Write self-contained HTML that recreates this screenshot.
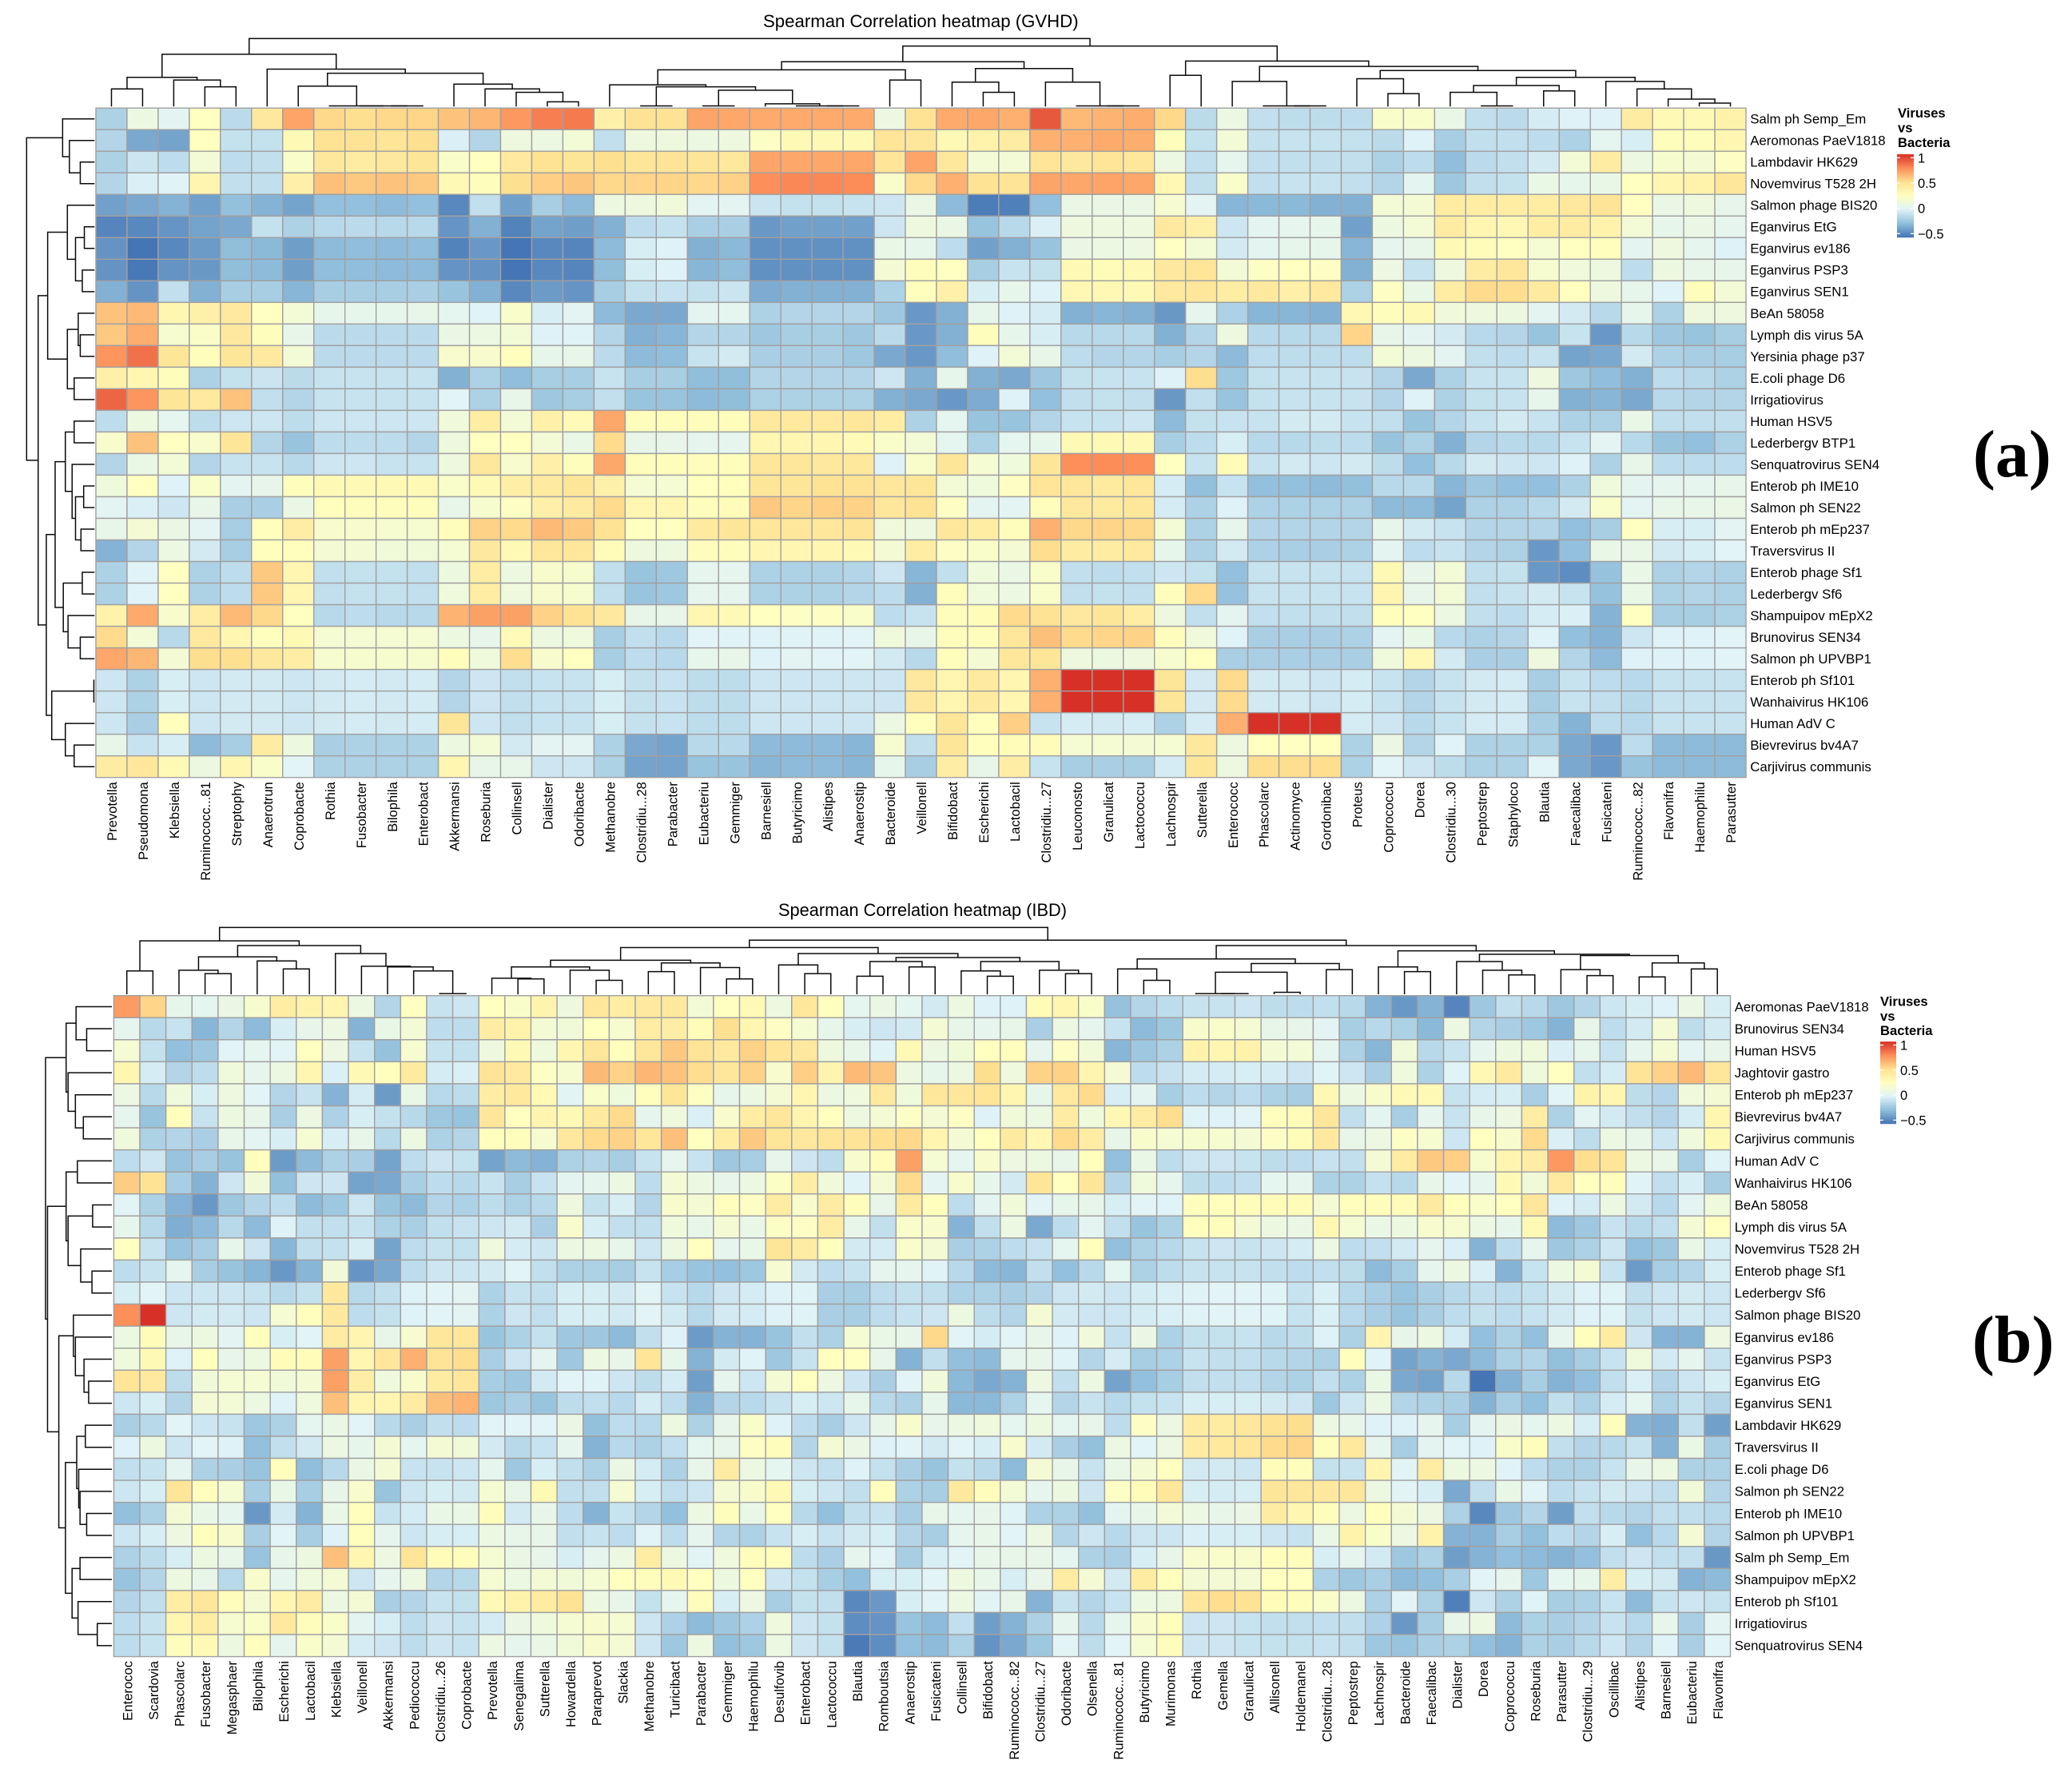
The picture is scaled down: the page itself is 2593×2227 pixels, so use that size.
<!DOCTYPE html>
<html lang="en">
<head>
<meta charset="utf-8">
<title>Spearman Correlation heatmaps</title>
<style>
html,body{margin:0;padding:0;background:#fff;}
svg{display:block;}
text{font-family:"Liberation Sans",Arial,sans-serif;fill:#000;}
.serif{font-family:"Liberation Serif",serif;font-weight:bold;}
</style>
</head>
<body>
<svg id="chart" xmlns="http://www.w3.org/2000/svg" width="2593" height="2227" viewBox="0 0 2593 2227">
  <rect x="0" y="0" width="2593" height="2227" fill="#ffffff"/>
  <text x="955" y="34" font-size="22.2">Spearman Correlation heatmap (GVHD)</text>
  <text x="974" y="1146" font-size="21.8">Spearman Correlation heatmap (IBD)</text>
  <text class="serif" x="2469" y="596" font-size="84">(a)</text>
  <text class="serif" x="2468" y="1704" font-size="84">(b)</text>
  <g font-weight="bold" font-size="16.6">
    <text x="2375" y="147">Viruses</text>
    <text x="2375" y="165.5">vs</text>
    <text x="2375" y="184">Bacteria</text>
  </g>
  <g font-weight="bold" font-size="16.6">
    <text x="2353" y="1258.5">Viruses</text>
    <text x="2353" y="1277">vs</text>
    <text x="2353" y="1295">Bacteria</text>
  </g>
</svg>
<script>
// ---------- colour scale data ----------
const colorStops = ["#4575B4","#91BFDB","#E0F3F8","#FFFFBF","#FEE090","#FC8D59","#D73027"];
const scaleMin = -0.57;
const scaleMax = 1.07;
const legendTicks = [1, 0.5, 0, -0.5];
const legendTickLabels = ["1", "0.5", "0", "\u22120.5"];

// ---------- GVHD panel data ----------
const gvhdViruses = ["Salm ph Semp_Em","Aeromonas PaeV1818","Lambdavir HK629","Novemvirus T528 2H","Salmon phage BIS20","Eganvirus EtG","Eganvirus ev186","Eganvirus PSP3","Eganvirus SEN1","BeAn 58058","Lymph dis virus 5A","Yersinia phage p37","E.coli phage D6","Irrigatiovirus","Human HSV5","Lederbergv BTP1","Senquatrovirus SEN4","Enterob ph IME10","Salmon ph SEN22","Enterob ph mEp237","Traversvirus II","Enterob phage Sf1","Lederbergv Sf6","Shampuipov mEpX2","Brunovirus SEN34","Salmon ph UPVBP1","Enterob ph Sf101","Wanhaivirus HK106","Human AdV C","Bievrevirus bv4A7","Carjivirus communis"];
const gvhdBacteria = ["Prevotella","Pseudomona","Klebsiella","Ruminococc...81","Streptophy","Anaerotrun","Coprobacte","Rothia","Fusobacter","Bilophila","Enterobact","Akkermansi","Roseburia","Collinsell","Dialister","Odoribacte","Methanobre","Clostridiu...28","Parabacter","Eubacteriu","Gemmiger","Barnesiell","Butyricimo","Alistipes","Anaerostip","Bacteroide","Veillonell","Bifidobact","Escherichi","Lactobacil","Clostridiu...27","Leuconosto","Granulicat","Lactococcu","Lachnospir","Sutterella","Enterococc","Phascolarc","Actinomyce","Gordonibac","Proteus","Coprococcu","Dorea","Clostridiu...30","Peptostrep","Staphyloco","Blautia","Faecalibac","Fusicateni","Ruminococc...82","Flavonifra","Haemophilu","Parasutter"];
// correlation x 100, one row per virus
const gvhdValues = [
[-20,8,0,25,-15,45,72,55,52,55,56,62,66,76,84,85,38,50,50,72,71,70,70,70,70,8,50,70,71,68,95,65,67,69,55,-15,8,-13,-14,-14,-14,20,20,6,-13,-15,-6,-3,-3,42,30,30,36],
[-18,-38,-40,25,-12,-12,30,50,50,48,52,-4,-18,10,8,14,-13,10,10,8,10,22,30,30,30,48,46,30,36,42,68,68,70,69,27,-12,14,-12,-11,-11,-12,-15,-3,-22,-13,-13,-14,-20,2,-5,27,27,33],
[-20,-10,-14,14,-14,-13,20,45,42,45,47,20,25,44,50,47,52,47,49,47,45,72,71,71,71,48,72,45,14,14,48,45,48,46,8,-13,3,-13,-13,-13,-13,-20,-14,-30,-15,-13,-7,14,42,8,18,15,23],
[-18,-4,-2,34,-13,-13,38,63,60,62,60,30,27,52,58,61,55,56,56,55,57,79,81,81,80,20,54,68,50,49,72,71,72,71,32,-13,20,-13,-11,-11,-13,-18,1,-25,-13,-12,7,4,6,25,33,36,46],
[-41,-38,-34,-41,-29,-34,-40,-29,-29,-31,-29,-50,-13,-41,-22,-31,9,10,13,0,1,-10,-12,-12,-11,-9,7,-31,-54,-53,-29,7,7,7,17,0,-33,-32,-32,-35,-35,14,15,42,41,41,41,45,49,24,7,10,5],
[-51,-50,-45,-40,-38,-12,-20,-16,-15,-16,-16,-45,-35,-52,-40,-42,-35,-14,-12,-21,-21,-44,-41,-41,-41,-9,10,7,-27,-16,-4,10,10,10,44,38,-9,1,3,4,-41,9,14,42,33,31,41,42,36,14,4,7,3],
[-46,-58,-50,-43,-30,-32,-42,-31,-30,-31,-30,-52,-44,-57,-50,-51,-31,-5,-3,-35,-32,-47,-47,-47,-47,6,4,-14,-41,-35,-27,7,8,8,24,14,-7,1,4,4,-33,3,5,30,28,24,16,24,26,1,10,3,-3],
[-46,-56,-46,-44,-30,-31,-42,-30,-30,-31,-31,-46,-46,-57,-50,-51,-30,-5,-3,-33,-30,-47,-47,-47,-47,15,27,24,-22,-11,-12,30,28,30,45,48,14,23,25,23,-35,8,-11,10,42,46,17,12,9,-14,9,5,5],
[-35,-46,-13,-35,-22,-22,-33,-22,-22,-22,-21,-27,-35,-50,-43,-45,-22,-12,-11,-12,-10,-37,-35,-35,-35,-20,26,37,-5,4,-3,32,31,30,44,46,41,44,38,44,-20,23,6,41,54,53,43,25,10,4,-2,27,14],
[62,65,33,38,44,24,14,4,4,4,5,2,-2,20,-5,0,-31,-38,-38,1,2,-20,-18,-18,-18,-25,-44,-35,4,-3,-6,-35,-33,-35,-44,3,-20,-33,-33,-35,31,27,30,12,10,9,1,-7,-16,4,-20,10,10],
[60,69,17,21,45,27,5,-15,-15,-15,-15,7,8,14,-3,-2,-18,-35,-33,-18,-18,-25,-22,-22,-25,-15,-44,-35,27,4,-5,-16,-16,-16,-35,-18,10,-16,-16,-16,56,5,1,-7,-16,-18,-27,-11,-44,-16,-25,-27,-22],
[77,88,47,27,47,44,14,-15,-15,-15,-15,19,19,26,4,5,-15,-31,-30,-11,-7,-21,-21,-21,-25,-38,-44,-30,-3,14,5,-14,-18,-18,-22,-18,-31,-14,-14,-14,-14,14,9,1,-13,-14,-11,-40,-38,-7,-20,-22,-22],
[38,33,27,-20,-12,-10,-15,-11,-11,-11,-11,-35,-20,-30,-22,-22,-11,-22,-22,-30,-30,-18,-18,-18,-18,-9,-35,4,-35,-38,-25,-12,-11,-11,-3,53,-25,-12,-11,-11,-11,-18,-38,-20,-11,-11,10,-25,-30,-35,-14,-16,-20],
[91,77,47,44,62,-13,-18,-11,-11,-11,-11,-1,-20,5,-25,-22,-13,-27,-27,-31,-30,-20,-20,-20,-20,-35,-38,-44,-37,-3,-29,-13,-12,-13,-44,-13,-27,-12,-11,-11,-11,-18,-3,-20,-12,-11,4,-35,-33,-38,-16,-18,-18],
[-14,9,2,-14,-9,-9,-14,-9,-9,-9,-9,12,41,14,37,29,71,27,27,27,27,44,44,44,46,41,-20,2,-27,-27,-18,-11,-11,-9,-31,-12,-11,-11,-7,-7,-11,-13,-27,-18,-11,-7,-11,-20,-20,6,-13,-13,-13],
[19,62,24,19,47,-18,-27,-14,-14,-14,-18,10,24,24,14,6,54,5,5,3,3,33,33,33,29,20,14,2,-20,2,4,30,30,30,-22,-14,-5,-16,-16,-14,-14,-27,-20,-35,-18,-16,-16,-11,0,-16,-27,-29,-20],
[-18,7,14,-18,-11,-11,-16,-9,-9,-11,-11,10,45,19,38,27,71,27,27,27,27,46,46,45,45,-3,20,47,16,11,47,79,80,79,25,-11,28,-11,-7,-9,-7,-14,-29,-16,-7,-9,-9,-3,-20,5,-14,-14,-14],
[11,24,-3,20,1,5,27,30,30,30,30,20,30,39,43,47,38,16,16,25,26,47,47,50,50,46,47,14,11,23,48,46,43,46,-6,-29,-11,-29,-29,-31,-29,-16,-16,-33,-25,-29,-29,-20,11,1,3,3,5],
[0,-4,-9,5,-21,-21,7,26,27,27,27,5,18,23,38,43,54,33,33,27,28,60,56,58,57,46,50,23,1,0,27,45,43,46,-6,-20,-3,-20,-20,-20,-20,-31,-31,-40,-20,-20,-16,-7,20,0,5,5,7],
[5,15,7,0,-22,26,41,19,19,17,17,27,57,54,65,60,50,25,25,43,47,46,46,46,49,12,9,46,41,27,68,55,56,55,14,-20,4,-18,-18,-18,-18,4,-7,-11,-18,-18,-18,-29,-22,24,-5,-5,0],
[-34,-18,8,-7,-22,26,26,15,15,13,13,16,45,30,46,46,28,10,9,27,27,33,33,33,30,15,41,22,20,15,53,42,42,44,4,-20,-7,-20,-21,-21,-20,1,-14,-11,-18,-20,-44,-29,6,6,-7,-5,-1],
[-20,-2,24,-20,-14,60,33,-13,-12,-12,-13,9,41,9,19,18,-13,-27,-25,3,3,-20,-20,-20,-18,-9,-33,-13,11,7,20,-13,-14,-13,-9,-12,-29,-11,-11,-11,-11,30,5,14,-13,-12,-44,-48,-28,6,-20,-18,-20],
[-20,-2,24,-20,-14,60,33,-13,-12,-12,-13,11,41,11,19,18,-13,-27,-25,3,3,-20,-20,-20,-18,-14,-35,27,11,8,20,-13,-12,-13,27,54,-28,-11,-11,-11,-11,34,5,14,-13,-11,-7,-11,-28,6,-20,-18,-20],
[36,70,19,41,65,55,25,-16,-14,-16,-16,67,73,73,57,50,45,5,5,33,30,25,23,23,20,-14,-11,27,28,54,50,45,47,41,10,-13,1,-13,-13,-13,-13,26,25,8,-13,-14,-6,-4,-34,24,-22,-22,-20],
[54,14,-16,44,33,26,30,16,16,16,16,9,5,29,9,11,-22,-13,-16,-1,-2,-3,-2,-2,-1,11,5,27,27,46,63,54,56,57,27,12,-2,-21,-21,-21,-20,0,6,-16,-20,-18,-3,-29,-34,-9,-3,-3,-1],
[71,66,15,53,52,45,40,18,18,18,18,27,11,53,19,25,-22,-14,-16,4,5,-3,0,-1,-1,-7,-16,27,15,46,47,10,9,10,18,25,-21,-21,-21,-21,-21,11,31,-7,-21,-21,10,-18,-31,-3,-3,-3,-1],
[-9,-20,-5,-9,-7,-7,-9,-7,-6,-7,-6,-18,-9,-13,-11,-11,-5,-12,-11,-14,-14,-9,-9,-9,-9,-9,45,33,43,33,68,107,107,107,47,-7,54,-7,-7,-9,-6,-11,-18,-11,-7,-6,-22,-11,-14,-16,-11,-11,-11],
[-9,-20,-5,-9,-7,-7,-9,-7,-6,-7,-6,-18,-9,-13,-11,-11,-5,-12,-11,-14,-14,-9,-9,-9,-9,-9,45,33,43,33,68,107,107,107,47,-7,54,-7,-7,-9,-6,-11,-18,-11,-7,-6,-22,-11,-13,-16,-11,-11,-11],
[-9,-21,26,-9,-7,-7,-9,-7,-6,-7,-6,47,-9,-13,-11,-11,-5,-12,-11,-14,-14,-9,-9,-9,-9,8,26,47,26,58,-11,-6,-7,-6,-20,-6,68,107,107,107,-6,-9,-16,-11,-6,-6,-22,-34,-14,-16,-11,-11,-11],
[5,-11,-5,-31,-22,42,9,-21,-20,-20,-20,9,14,-7,0,0,-20,-38,-40,-16,-16,-31,-31,-31,-33,17,-13,47,26,28,28,16,16,15,16,45,9,25,24,25,-20,7,-18,-2,-20,-20,-20,-38,-44,-14,-31,-31,-31],
[42,46,30,9,33,20,-1,-20,-20,-20,-20,33,5,5,-9,-9,-20,-40,-40,-27,-27,-33,-31,-31,-33,4,-22,40,5,40,-11,-22,-21,-22,-6,47,9,53,53,53,-20,-1,-9,-14,-20,-20,-1,-38,-44,-27,-31,-31,-31]
];
// dendrograms: [merge distance, left, right]; 0 = leaf; distance scaled 0-100
const gvhdColumnTree = [100,
 [77,[43,[26,0,0],[39,0,[29,0,0]]],[55,0,[49,[30,0,[1,0,[1,0,[1,0,0]]]],[33,0,[26,0,[21,0,[7,0,0]]]]]]],
 [89,[66,[54,[32,0,[29,[1,0,0],[24,[1,0,0],[4,0,[1,0,[1,0,0]]]]]],[39,0,0]],[56,[36,0,[21,0,0]],[36,0,[1,0,[1,0,0]]]]],
     [67,[46,0,0],[59,[37,0,[1,0,[1,0,0]]],[53,[41,0,[19,0,0]],[43,[31,[21,0,[1,0,0]],[23,0,0]],[37,0,[26,0,[11,0,[5,0,0]]]]]]]]]];
const gvhdRowTree = [100,
 [47,0,[37,0,[21,0,0]]],
 [83,[69,[40,0,[28,[15,0,0],[18,0,0]]],[40,[24,0,[21,0,0]],[30,0,0]]],
     [71,[58,[43,[30,0,0],[33,0,[28,[16,0,0],[20,0,0]]]],[46,[18,0,0],[39,0,[21,0,0]]]],
         [63,[1,0,0],[43,0,[30,0,0]]]]]];

// ---------- IBD panel data ----------
const ibdViruses = ["Aeromonas PaeV1818","Brunovirus SEN34","Human HSV5","Jaghtovir gastro","Enterob ph mEp237","Bievrevirus bv4A7","Carjivirus communis","Human AdV C","Wanhaivirus HK106","BeAn 58058","Lymph dis virus 5A","Novemvirus T528 2H","Enterob phage Sf1","Lederbergv Sf6","Salmon phage BIS20","Eganvirus ev186","Eganvirus PSP3","Eganvirus EtG","Eganvirus SEN1","Lambdavir HK629","Traversvirus II","E.coli phage D6","Salmon ph SEN22","Enterob ph IME10","Salmon ph UPVBP1","Salm ph Semp_Em","Shampuipov mEpX2","Enterob ph Sf101","Irrigatiovirus","Senquatrovirus SEN4"];
const ibdBacteria = ["Enterococ","Scardovia","Phascolarc","Fusobacter","Megasphaer","Bilophila","Escherichi","Lactobacil","Klebsiella","Veillonell","Akkermansi","Pediococcu","Clostridiu...26","Coprobacte","Prevotella","Senegalima","Sutterella","Howardella","Paraprevot","Slackia","Methanobre","Turicibact","Parabacter","Gemmiger","Haemophilu","Desulfovib","Enterobact","Lactococcu","Blautia","Romboutsia","Anaerostip","Fusicateni","Collinsell","Bifidobact","Ruminococc...82","Clostridiu...27","Odoribacte","Olsenella","Ruminococc...81","Butyricimo","Murimonas","Rothia","Gemella","Granulicat","Allisonell","Holdemanel","Clostridiu...28","Peptostrep","Lachnospir","Bacteroide","Faecalibac","Dialister","Dorea","Coprococcu","Roseburia","Parasutter","Clostridiu...29","Oscillibac","Alistipes","Barnesiell","Eubacteriu","Flavonifra"];
const ibdValues = [
[75,56,4,2,7,18,41,36,34,8,-18,24,-11,-9,25,20,35,10,46,41,44,44,14,24,30,9,46,25,2,7,2,-7,8,-3,-3,28,33,20,-28,-18,-14,-11,-11,-9,-14,-14,-13,-16,-34,-44,-34,-51,-25,-13,-16,-25,-18,-9,-5,-3,7,-5],
[3,-16,-11,-33,-18,-31,-5,5,8,-34,6,14,-14,-14,41,36,15,13,25,17,41,40,28,52,33,23,16,4,-5,-9,-7,15,5,3,5,-21,8,3,-11,-31,-25,19,20,16,5,5,0,-22,-16,-20,-32,8,-18,-21,-25,-34,5,-14,-7,15,-14,-7],
[16,-12,-29,-25,-1,2,-1,25,8,-11,-28,17,-11,-12,10,30,11,33,46,26,46,60,49,44,57,48,45,10,5,-2,30,8,13,25,26,3,22,13,-33,-25,-20,36,33,36,15,14,2,-20,-33,12,-16,-11,3,9,11,-4,4,-11,3,15,0,5],
[33,-6,-18,-14,11,3,8,33,-4,30,26,43,-6,-4,49,44,23,17,65,57,66,62,53,46,57,19,58,34,65,61,8,4,8,53,11,57,57,34,15,-14,-11,-6,-6,-5,-6,-9,-2,-9,-21,11,-20,-2,31,43,11,25,-13,-6,49,57,65,46],
[8,-16,11,-5,9,-1,-18,-11,-34,-6,-43,6,-16,-14,41,44,30,-1,20,11,26,47,23,4,8,15,33,8,11,44,11,46,46,48,33,4,44,54,-5,1,-22,-14,-18,-14,-20,-22,31,8,19,30,30,-11,-6,-5,-21,-1,36,33,-14,-18,12,15],
[3,-27,26,-11,9,5,-21,8,-20,-5,-12,-16,-25,-27,46,25,34,30,43,54,3,11,-4,19,41,46,34,25,9,15,22,15,23,-3,13,8,42,11,31,42,53,-2,-3,-1,26,28,46,-13,1,-22,3,-11,5,8,41,-20,0,-7,-13,-18,-6,33],
[11,-20,-18,-21,5,0,-5,16,-5,5,-16,8,-20,-18,26,27,17,45,54,57,46,63,25,41,60,47,45,48,49,52,55,34,15,25,43,32,54,41,5,19,16,18,17,15,22,28,44,5,8,22,17,-9,25,19,54,-4,-14,8,5,-9,11,30],
[-14,-9,-27,-22,-27,26,-43,-31,-20,-21,-40,-14,-9,-11,-40,-31,-34,-20,-18,-22,-11,3,-11,-25,-22,5,-9,-14,19,27,73,16,2,19,8,9,5,26,-29,6,-14,-9,-9,-11,-14,-14,-11,-13,15,42,60,58,18,34,40,76,53,47,8,6,-22,-2],
[59,50,-22,-34,-9,13,-29,-9,-9,-40,-38,-21,-14,-16,-11,-22,-11,1,3,8,-14,15,8,5,8,22,40,12,-2,15,54,0,19,4,-7,47,25,47,-18,11,3,-14,-14,-13,2,3,-20,-20,-12,-16,5,-1,3,30,13,44,25,27,-2,-13,-5,-22],
[-1,-20,-34,-44,-25,-18,-14,-31,-25,-9,-27,-31,-18,-20,-14,-20,-16,10,-12,-5,-18,19,15,26,22,42,19,42,27,5,43,26,-14,1,13,-1,4,5,-5,-1,-2,27,26,27,28,28,15,26,27,28,43,26,20,25,46,-3,-6,8,-7,-16,0,11],
[4,-16,-36,-31,-16,-31,-3,-13,-13,-11,-20,-21,-13,-11,-9,-7,-21,19,-5,-13,-13,11,5,15,6,22,22,41,5,-13,20,19,-34,-13,8,-38,-14,1,-13,-27,-20,26,27,15,9,7,31,16,6,9,19,17,8,4,30,-31,-25,-11,-16,-13,15,25],
[25,-11,-27,-22,4,-9,-33,-13,-12,-5,-40,-14,-11,-12,11,-6,-9,8,8,4,-9,8,25,3,6,47,42,26,-7,-6,20,15,-21,-20,-14,-11,2,26,-29,-20,-16,-11,-9,-11,-9,-6,8,-14,-13,-7,3,-4,-34,-14,3,-25,-20,-9,-29,-25,6,-5],
[-14,-11,2,-22,-27,-33,-44,-33,13,-45,-38,-14,-9,-9,-7,-1,-13,-20,-20,-22,-11,-22,-27,-29,-25,17,-7,-14,-11,3,3,-2,-16,-31,-33,-13,-29,-16,2,-20,-14,-11,-11,-11,-13,-14,-13,-14,-31,-22,3,8,-4,-34,-11,8,15,-11,-43,-22,-18,-5],
[-5,-1,-9,-9,-9,-11,-16,-12,44,-16,-13,-3,-1,0,-20,-11,-13,-5,-5,-7,-1,-11,-16,-9,-6,-3,-2,-21,-22,-14,-12,-13,-20,-20,-21,-18,-9,-7,-9,-6,-4,-2,-1,-1,-2,-11,-4,-16,-21,-27,-21,-16,-13,-14,-12,-7,-3,-2,-13,-9,-7,-9],
[79,107,-9,-7,-7,-9,16,26,44,-14,-12,-3,-1,0,-20,-9,-13,-5,-5,-7,-1,-7,-16,-7,-6,-3,-2,-21,-22,-14,-11,-9,9,-14,-18,15,-7,-9,-9,-6,-4,-2,-1,-1,-2,-11,-4,-16,-21,-27,-21,-14,-12,-14,-11,-7,-3,-2,-12,-9,-7,-9],
[8,28,5,9,0,26,-5,-1,42,34,5,17,46,46,-27,-20,-12,-25,-25,-31,-13,-3,-43,-34,-34,-27,-13,-20,16,6,5,55,-1,-6,-1,5,-3,12,-12,7,-20,-12,-12,-11,-16,-14,-3,-20,34,5,8,-6,-29,-20,-29,3,26,42,-9,-34,-34,8],
[11,30,-3,26,5,9,28,28,73,33,46,68,49,53,-21,-9,1,-25,8,5,48,4,-34,-7,-2,-25,-11,25,25,5,-34,-13,-29,-31,3,5,-2,-18,-6,-22,-20,-11,-13,-13,-16,-18,-20,26,-2,-40,-34,-38,-31,-20,-18,-29,-22,-11,11,-7,3,-11],
[48,44,-14,13,16,16,13,15,73,40,11,19,42,46,-22,-25,-7,-1,-2,-9,-14,-6,-42,3,-9,15,25,8,-9,-21,-1,12,-32,-38,-34,8,-13,8,-40,-29,-22,-13,-13,-13,-18,-20,-13,-20,7,-38,-40,-16,-57,-34,-22,-34,-29,-13,-4,-18,-9,-5],
[-9,-5,-18,15,14,8,-3,11,63,34,33,42,63,67,-25,-21,-27,-14,-13,-16,-6,-14,-34,-18,-16,-11,-5,-9,4,-16,-20,4,-32,-32,-20,2,-18,-11,-16,-12,-11,-5,-5,-5,-7,-9,-25,-9,7,-18,-20,-21,-34,-22,-29,-13,-20,-6,2,-20,-12,-18],
[-21,-16,-1,-9,-11,-25,-20,2,7,-1,-16,-21,-13,-14,-1,-1,-1,7,-29,-14,-16,9,-20,5,20,-3,-14,-22,-9,5,19,5,8,11,2,9,2,5,-14,22,8,42,42,45,50,53,8,5,-3,-3,3,-22,1,7,2,8,-5,27,-34,-36,-13,-41],
[-3,9,-9,-1,-3,-29,-13,-7,8,4,15,2,15,13,-7,-16,-11,3,-34,-16,-20,-13,2,5,23,27,-18,15,7,-3,-1,-7,-1,-5,19,-7,-21,-29,8,-1,8,42,44,46,54,56,27,44,3,-22,1,-1,-3,20,27,-13,-18,-16,-11,-34,7,-22],
[-13,-11,1,-20,-21,-27,26,-30,-16,7,15,-11,-11,-9,3,-25,-5,-13,-20,7,-6,-20,5,42,8,2,-9,-13,-3,-12,-21,-27,-12,-16,-31,15,5,-11,6,15,25,-7,-7,-9,28,27,-12,-11,34,-1,41,9,8,-2,-14,-20,-20,-11,5,8,-20,-20],
[-9,-5,47,26,16,-22,6,-22,5,19,-27,-9,-5,-7,16,5,30,-13,-13,16,-5,-13,-9,15,19,30,-5,-9,-13,26,-20,-22,44,27,14,3,9,-9,22,28,46,-5,-6,-5,47,46,44,46,8,-1,-5,-38,-13,6,-1,-14,-11,-7,-9,-13,13,-18],
[-29,-20,15,6,3,-44,-7,-34,6,26,-11,-6,6,6,27,-7,5,-14,-34,-11,-18,-29,8,27,6,25,-16,-29,-13,-11,-22,5,2,5,-2,-20,-20,-29,1,5,14,8,5,7,42,33,27,8,26,15,8,-20,-50,-25,-18,-42,-13,-16,-18,-13,-13,-16],
[-9,-5,9,26,19,-21,-1,-22,-3,26,3,-9,-5,-5,8,5,5,-13,-11,-14,-1,-14,3,-18,-20,-11,-5,-11,-7,-5,-18,-22,3,5,-1,8,-18,-9,-16,-9,-9,-4,-5,-5,-9,-11,6,36,20,8,36,-34,-34,-22,-29,-14,-18,-5,-29,-16,15,-18],
[-20,-14,-5,9,5,-27,5,9,63,33,8,48,28,27,16,7,5,-5,3,8,41,9,-1,11,27,26,-14,-21,3,-1,-22,-5,-1,5,5,5,2,-20,-21,-5,5,19,20,19,26,27,-5,3,-7,-25,-20,-42,-34,-29,-31,-34,-29,-13,-9,-13,-13,-44],
[-27,-18,9,5,-16,19,3,11,15,-9,3,8,-18,-16,16,8,15,13,16,25,27,30,25,9,25,-9,-12,-22,-29,-5,-5,-1,10,5,-5,5,42,15,-7,42,26,15,15,15,25,25,-20,-25,-21,-31,-29,-21,-1,3,-25,2,4,40,-5,-7,-34,-31],
[-18,-13,40,46,27,15,33,42,8,15,-21,-18,-11,-12,30,36,42,50,8,5,-12,3,27,-5,8,-22,-12,-13,-50,-44,-5,-1,8,-1,5,-34,-11,-18,-11,8,9,46,53,50,28,27,20,8,-20,-1,-20,-53,-9,-20,-2,-22,-20,-11,-31,-11,-9,-11],
[-14,-11,33,41,17,20,44,27,20,1,-5,-14,-9,-11,-6,7,11,16,19,16,-9,-20,-31,-25,-20,11,-9,-12,-48,-46,-27,-31,-13,-42,-34,-20,3,-16,3,19,26,-9,-9,-11,-13,-13,-13,-13,-20,-44,-22,5,8,-31,-20,-21,-18,-11,-16,4,-21,0],
[-14,-11,27,30,9,26,3,20,15,-6,-9,-14,-9,-11,8,3,7,13,19,15,-9,-25,9,-29,-25,8,-9,-12,-55,-48,-29,-31,-20,-46,-38,-25,-1,-14,-1,16,27,-9,-9,-11,-12,-12,-11,-13,-25,-27,-21,-20,-29,-34,-20,-21,-16,-9,-18,-2,-21,-1]
];
const ibdColumnTree = [100,
 [80,[35,0,0],[73,[56,[36,0,[31,0,0]],[50,0,[38,0,0]]],[61,0,[42,0,[41,0,[35,0,[1,0,0]]]]]]],
 [81,[70,[51,[41,[24,0,[23,0,0]],[36,0,[21,0,0]]],[47,[34,0,0],[40,0,[23,0,0]]]],
         [61,[44,0,[31,0,0]],[55,[49,[27,0,0],[41,0,0]],[49,[35,0,[27,0,0]],[36,0,[31,0,0]]]]]],
     [73,[53,[38,0,[21,0,0]],[46,[33,[1,0,[1,0,0]],[3,0,0]],[37,0,0]]],
         [65,[41,0,[34,0,0]],[60,[49,0,[36,0,[29,0,0]]],[58,[37,0,[28,0,0]],[47,[26,0,0],[38,0,0]]]]]]]];
const ibdRowTree = [100,
 [69,[54,0,[38,0,0]],[66,0,[55,0,[43,0,0]]]],
 [97,[69,[52,0,0],[66,[29,0,0],[47,0,[30,0,0]]]],
     [80,[58,0,[55,0,[42,0,[35,0,0]]]],
         [70,[53,[40,0,0],[50,0,[48,0,[38,0,0]]]],[60,[48,0,0],[51,0,[22,0,0]]]]]]];

// ---------- drawing ----------
const SVGNS = "http://www.w3.org/2000/svg";
const svg = document.getElementById("chart");

function make(tag, parent, attrs) {
  const el = document.createElementNS(SVGNS, tag);
  for (const k in attrs) el.setAttribute(k, attrs[k]);
  parent.appendChild(el);
  return el;
}
function hexToRgb(h) {
  return [parseInt(h.slice(1,3),16), parseInt(h.slice(3,5),16), parseInt(h.slice(5,7),16)];
}
function colorFor(v) {
  const t = Math.max(0, Math.min(1, (v - scaleMin) / (scaleMax - scaleMin))) * (colorStops.length - 1);
  const i = Math.min(colorStops.length - 2, Math.floor(t));
  const f = t - i;
  const a = hexToRgb(colorStops[i]);
  const b = hexToRgb(colorStops[i + 1]);
  return "rgb(" + a.map(function (c, n) { return Math.round(c + (b[n] - c) * f); }).join(",") + ")";
}
// walks a dendrogram; emits a bracket for each merge via draw(p1,h1,p2,h2,h)
function walkTree(node, counter, draw) {
  if (node === 0) {
    const p = counter.n;
    counter.n += 1;
    return { pos: p, h: 0 };
  }
  const a = walkTree(node[1], counter, draw);
  const b = walkTree(node[2], counter, draw);
  draw(a.pos, a.h, b.pos, b.h, node[0]);
  return { pos: (a.pos + b.pos) / 2, h: node[0] };
}

function drawPanel(p) {
  const cw = (p.right - p.left) / p.bacteria.length;
  const rh = (p.bottom - p.top) / p.viruses.length;
  const xScale = function (j) { return p.left + j * cw; };
  const yScale = function (i) { return p.top + i * rh; };

  const cells = make("g", svg, { stroke: "#a0a0a0", "stroke-width": p.gridWidth });
  
  
  p.values.forEach(function (row, i) {
    row.forEach(function (val, j) {
      const c = make("rect", cells, { x: xScale(j), y: yScale(i), width: cw, height: rh, fill: colorFor(val / 100) });
      
      
    });
  });

  const rowLabels = make("g", svg, { "font-size": p.rowLabelSize });
  
  
  p.viruses.forEach(function (name, i) {
    const t = make("text", rowLabels, { x: p.right + 5.2, y: yScale(i) + rh / 2 + p.rowLabelSize * 0.35 });
    t.textContent = name;
    
    
  });

  const colLabels = make("g", svg, { "font-size": p.colLabelSize, "text-anchor": "end" });
  
  
  p.bacteria.forEach(function (name, j) {
    const lx = xScale(j) + cw / 2 + p.colLabelSize * 0.4;
    const ly = p.bottom + 5.5;
    const t = make("text", colLabels, { x: lx, y: ly, transform: "rotate(-90 " + lx + " " + ly + ")" });
    t.textContent = name;
    
    
  });

  const colDendro = make("g", svg, { fill: "none", stroke: "#0a0a0a", "stroke-width": 1.5 });
  
  
  const colY = function (h) { return p.colBase - h / 100 * p.colRange; };
  const colX = function (pos) { return p.left + (pos + 0.5) * cw; };
  walkTree(p.colTree, { n: 0 }, function (p1, h1, p2, h2, h) {
    const d = "M" + colX(p1) + " " + colY(h1) + "V" + colY(h) + "H" + colX(p2) + "V" + colY(h2);
    const e = make("path", colDendro, { d: d });
    
    
  });

  const rowDendro = make("g", svg, { fill: "none", stroke: "#0a0a0a", "stroke-width": 1.5 });
  
  
  const rowX = function (h) { return p.rowBase - h / 100 * p.rowRange; };
  const rowY = function (pos) { return p.top + (pos + 0.5) * rh; };
  walkTree(p.rowTree, { n: 0 }, function (p1, h1, p2, h2, h) {
    const d = "M" + rowX(h1) + " " + rowY(p1) + "H" + rowX(h) + "V" + rowY(p2) + "H" + rowX(h2);
    const e = make("path", rowDendro, { d: d });
    
    
  });

  const legend = make("g", svg, {});
  
  
  const legendY = function (v) { return p.legendTop + (1 - v) * p.legendUnit; };
  const steps = 60;
  for (let s = 0; s < steps; s++) {
    const v0 = scaleMax - (scaleMax - scaleMin) * s / steps;
    const v1 = scaleMax - (scaleMax - scaleMin) * (s + 1) / steps;
    const r = make("rect", legend, { x: p.legendX, y: legendY(v0), width: p.legendW, height: legendY(v1) - legendY(v0) + 0.5, fill: colorFor((v0 + v1) / 2) });
    
    
  }
  legendTicks.forEach(function (v, i) {
    const y = legendY(v);
    const t1 = make("line", legend, { x1: p.legendX, x2: p.legendX + 4, y1: y, y2: y, stroke: "#fff", "stroke-width": 1.2 });
    
    
    const t2 = make("line", legend, { x1: p.legendX + p.legendW - 4, x2: p.legendX + p.legendW, y1: y, y2: y, stroke: "#fff", "stroke-width": 1.2 });
    
    
    const lab = make("text", legend, { x: p.legendX + p.legendW + 5, y: y + 6, "font-size": 16.5 });
    lab.textContent = legendTickLabels[i];
    
    
  });
}

drawPanel({
  id: "gvhd", viruses: gvhdViruses, bacteria: gvhdBacteria, values: gvhdValues,
  colTree: gvhdColumnTree, rowTree: gvhdRowTree,
  left: 120, right: 2185, top: 135.2, bottom: 972.7, gridWidth: 1.4, rowLabelSize: 16.85, colLabelSize: 16.6,
  colBase: 133.3, colRange: 85, rowBase: 118.3, rowRange: 85,
  legendX: 2374, legendW: 21, legendTop: 197.3, legendUnit: 63.33
});
drawPanel({
  id: "ibd", viruses: ibdViruses, bacteria: ibdBacteria, values: ibdValues,
  colTree: ibdColumnTree, rowTree: ibdRowTree,
  left: 142.4, right: 2165.5, top: 1245.7, bottom: 2072.6, gridWidth: 1.4, rowLabelSize: 16.7, colLabelSize: 16.6,
  colBase: 1244, colRange: 83.6, rowBase: 140, rowRange: 83,
  legendX: 2353, legendW: 20, legendTop: 1307.5, legendUnit: 62.6
});
</script>
</body>
</html>
